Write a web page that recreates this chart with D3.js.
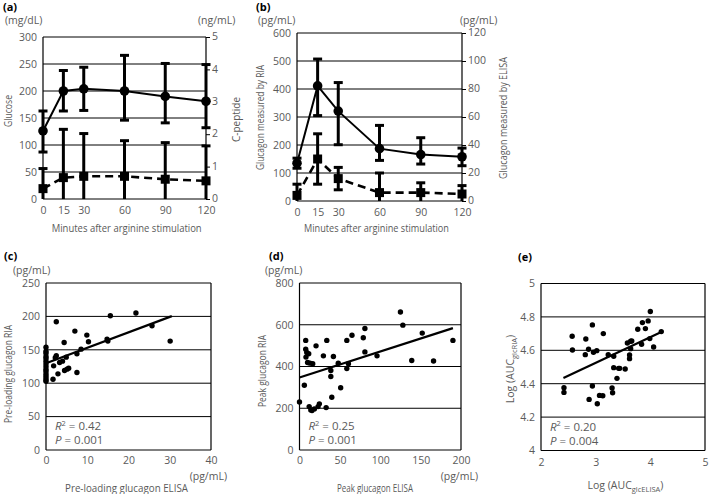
<!DOCTYPE html>
<html><head><meta charset="utf-8">
<script src="https://cdn.jsdelivr.net/npm/d3@7"></script>
<style>
body{margin:0;background:#fff}
svg text{font-family:"Open Sans",sans-serif;}
</style>
</head><body>
<svg id="chart" width="709" height="494"></svg>
<script>
// ---------- DATA ----------
const minutes = [0, 15, 30, 60, 90, 120];
// panel (a)
const glucose = [126, 200, 204, 200, 190, 181];
const glucoseErrUp = [37, 38, 40, 66, 61, 68];
const glucoseErrDown = [39, 37, 40, 54, 49, 49];
const cPeptide = [0.32, 0.66, 0.70, 0.70, 0.61, 0.56];
const cPeptideSD = [0.62, 1.49, 1.32, 1.10, 1.13, 1.08];
// panel (b)
const glucagonRIA = [135, 411, 321, 187, 166, 158];
const riaErrUp = [18, 96, 102, 83, 60, 31];
const riaErrDown = [18, 106, 120, 42, 34, 32];
const glucagonELISA = [4, 30, 16, 6, 6, 5];
const elisaSD = [8, 18, 8, 14, 7, 6];
// tick labels
const glucoseTicks = [0, 50, 100, 150, 200, 250, 300];
const cPeptideTicks = [0, 1, 2, 3, 4, 5];
const riaTicks = [0, 100, 200, 300, 400, 500, 600];
const elisaTicks = [0, 20, 40, 60, 80, 100, 120];
// panel (c)
const preELISA = [0,0,0,0,0,0,0,0,0,0,0,0,0,0,0,
  1.7,1.85,2.5,2.5,2.9,3.3,4.0,4.4,4.5,4.9,5.1,5.5,7.0,7.5,7.5,8.5,9.9,10.3,14.8,15.0,15.6,21.8,25.7,30.1,2.25];
const preRIA = [154,148,145,140,137,133,129,125,121,118,114,111,108,105,103,
  106,126,192,141,114,131,133,161,119,139,121,122.5,178,144,116,151,172,162,166,163,201,205,186,163,138];
const preFitRange = [0, 30.5];
const preFitCoef = [130, 2.31];   // intercept, slope
const preXTicks = [0, 10, 20, 30, 40];
const preYTicks = [0, 50, 100, 150, 200, 250];
// panel (d)
const peakELISA = [0,6,8,7.7,7.7,9,10,11.4,12,13,14,15.5,16.4,20.5,18.4,23,24.6,29.6,33,33.8,38.8,38.8,40,42,48,51,58.6,58.6,60.6,65,79,81,81,96,125,128,139,152,166,190];
const peakRIA = [230,310,445,525,483,467,419,461,208,416,192,189,413,499,197,208,221,451,203,525,381,352,253,448,416,298,390,525,413,550,538,582,470,451,661,598,429,560,426,525];
const peakFitRange = [0, 190];
const peakFitCoef = [347, 1.247];
const peakXTicks = [0, 50, 100, 150, 200];
const peakYTicks = [0, 200, 400, 600, 800];
// panel (e)
const aucELISA = [2.42,2.42,2.57,2.575,2.82,2.81,2.87,2.88,2.94,2.94,2.96,3.02,3.03,3.07,3.13,3.14,3.23,3.30,3.31,3.33,3.33,3.39,3.42,3.44,3.54,3.58,3.62,3.62,3.64,3.64,3.66,3.77,3.84,3.855,3.91,3.96,4.0,3.99,4.06,4.2];
const aucRIA = [4.376,4.348,4.684,4.602,4.668,4.574,4.606,4.306,4.752,4.386,4.588,4.598,4.28,4.33,4.328,4.70,4.574,4.374,4.346,4.564,4.496,4.432,4.492,4.492,4.488,4.644,4.55,4.572,4.654,4.61,4.656,4.726,4.636,4.766,4.73,4.776,4.832,4.67,4.62,4.712];
const aucFitRange = [2.41, 4.23];
const aucFitCoef = [4.063, 0.154];
const aucXTicks = [2, 3, 4, 5];
const aucYTicks = [4, 4.2, 4.4, 4.6, 4.8, 5];

// ---------- DRAW ----------
const svg = d3.select("#chart");
const GREY = "#5a5a5a";
const FS = 10.5;
const fmt = d => String(+d.toFixed(2));

function text(x, y, s, o = {}) {
  const t = svg.append("text").attr("x", x).attr("y", y).text(s)
    .attr("font-size", o.size || FS).attr("fill", o.fill || GREY)
    .attr("text-anchor", o.anchor || "start");
  if (o.weight) t.attr("font-weight", o.weight);
  if (o.len) t.attr("textLength", o.len).attr("lengthAdjust", "spacingAndGlyphs");
  if (o.rotate) t.attr("transform", `rotate(-90,${x},${y})`);
  return t;
}
function styleAxis(g) {
  g.select(".domain").remove();
  g.selectAll("text").attr("fill", GREY).attr("font-size", FS).attr("font-family", '"Open Sans",sans-serif');
  g.selectAll("line").attr("stroke", "#000");
}

function errorBars(g, x, y, xs, vals, up, down, dmin) {
  const cap = 4.5;
  xs.forEach((m, i) => {
    const top = vals[i] + up[i];
    const lowRaw = vals[i] - down[i];
    const low = Math.max(lowRaw, dmin);
    const cx = x(m);
    g.append("line").attr("x1", cx).attr("x2", cx).attr("y1", y(low)).attr("y2", y(top))
      .attr("stroke", "#000").attr("stroke-width", 3);
    g.append("line").attr("x1", cx - cap).attr("x2", cx + cap).attr("y1", y(top)).attr("y2", y(top))
      .attr("stroke", "#000").attr("stroke-width", 3);
    if (lowRaw >= dmin)
      g.append("line").attr("x1", cx - cap).attr("x2", cx + cap).attr("y1", y(low)).attr("y2", y(low))
        .attr("stroke", "#000").attr("stroke-width", 3);
  });
}

function timePanel(c) {
  const g = svg.append("g");
  const x = d3.scaleLinear().domain([0, 120]).range([c.x0, c.x1]);
  const yL = d3.scaleLinear().domain([0, c.lTicks[c.lTicks.length - 1]]).range([c.y0, c.y1]);
  const yR = d3.scaleLinear().domain([0, c.rTicks[c.rTicks.length - 1]]).range([c.y0, c.y1]);
  g.selectAll(".grid").data(c.lTicks).enter().append("line")
    .attr("x1", c.x0).attr("x2", c.x1).attr("y1", d => yL(d)).attr("y2", d => yL(d))
    .attr("stroke", "#000").attr("stroke-width", 1);
  [c.x0, c.x1].forEach(xx => g.append("line").attr("x1", xx).attr("x2", xx)
    .attr("y1", c.y0).attr("y2", c.y1).attr("stroke", "#000").attr("stroke-width", 1.2));
  const ax = g.append("g").attr("transform", `translate(${c.x0},0)`)
    .call(d3.axisLeft(yL).tickValues(c.lTicks).tickFormat(fmt).tickSize(0).tickPadding(6));
  styleAxis(ax);
  const ar = g.append("g").attr("transform", `translate(${c.x1},0)`)
    .call(d3.axisRight(yR).tickValues(c.rTicks).tickFormat(fmt).tickSize(4).tickPadding(2));
  styleAxis(ar);
  ar.selectAll("text").attr("dy", "0.25em");
  const ab = g.append("g").attr("transform", `translate(0,${c.y0})`)
    .call(d3.axisBottom(x).tickValues(minutes).tickFormat(fmt).tickSize(0).tickPadding(8));
  styleAxis(ab);
  errorBars(g, x, yR, minutes, c.bVals, c.bUp, c.bDown, 0);
  errorBars(g, x, yL, minutes, c.aVals, c.aUp, c.aDown, 0);
  g.append("path").datum(minutes.map((m, i) => [m, c.bVals[i]]))
    .attr("d", d3.line().x(d => x(d[0])).y(d => yR(d[1])))
    .attr("fill", "none").attr("stroke", "#000").attr("stroke-width", 2.6).attr("stroke-dasharray", "8,5");
  g.append("path").datum(minutes.map((m, i) => [m, c.aVals[i]]))
    .attr("d", d3.line().x(d => x(d[0])).y(d => yL(d[1])))
    .attr("fill", "none").attr("stroke", "#000").attr("stroke-width", 2);
  g.selectAll(".sq").data(minutes).enter().append("rect")
    .attr("x", (d) => x(d) - 4.5).attr("y", (d, i) => yR(c.bVals[i]) - 4.5)
    .attr("width", 9).attr("height", 9).attr("fill", "#000");
  g.selectAll(".ci").data(minutes).enter().append("circle")
    .attr("cx", d => x(d)).attr("cy", (d, i) => yL(c.aVals[i])).attr("r", 4.8).attr("fill", "#000");
}

timePanel({x0: 43, x1: 206, y0: 199, y1: 37, lTicks: glucoseTicks, rTicks: cPeptideTicks,
  aVals: glucose, aUp: glucoseErrUp, aDown: glucoseErrDown,
  bVals: cPeptide, bUp: cPeptideSD, bDown: cPeptideSD});
timePanel({x0: 297, x1: 462, y0: 201, y1: 33, lTicks: riaTicks, rTicks: elisaTicks,
  aVals: glucagonRIA, aUp: riaErrUp, aDown: riaErrDown,
  bVals: glucagonELISA, bUp: elisaSD, bDown: elisaSD});

function scatterPanel(c) {
  const g = svg.append("g");
  const x = d3.scaleLinear().domain([c.xT[0], c.xT[c.xT.length - 1]]).range([c.x0, c.x1]);
  const y = d3.scaleLinear().domain([c.yT[0], c.yT[c.yT.length - 1]]).range([c.y0, c.y1]);
  g.selectAll(".grid").data(c.yT).enter().append("line")
    .attr("x1", c.x0).attr("x2", c.x1).attr("y1", d => y(d)).attr("y2", d => y(d))
    .attr("stroke", "#000").attr("stroke-width", 1);
  [c.x0, c.x1].forEach(xx => g.append("line").attr("x1", xx).attr("x2", xx)
    .attr("y1", c.y0).attr("y2", c.y1).attr("stroke", "#000").attr("stroke-width", 1.2));
  const ax = g.append("g").attr("transform", `translate(${c.x0},0)`)
    .call(d3.axisLeft(y).tickValues(c.yT).tickFormat(fmt).tickSize(0).tickPadding(6));
  styleAxis(ax);
  const ab = g.append("g").attr("transform", `translate(0,${c.y0})`)
    .call(d3.axisBottom(x).tickValues(c.xT).tickFormat(fmt).tickSize(0).tickPadding(c.xPad || 7));
  styleAxis(ab);
  g.selectAll("circle").data(c.xs).enter().append("circle")
    .attr("cx", d => x(d)).attr("cy", (d, i) => y(c.ys[i])).attr("r", 2.7).attr("fill", "#000");
  g.append("line")
    .attr("x1", x(c.fr[0])).attr("y1", y(c.fc[0] + c.fc[1] * c.fr[0]))
    .attr("x2", x(c.fr[1])).attr("y2", y(c.fc[0] + c.fc[1] * c.fr[1]))
    .attr("stroke", "#000").attr("stroke-width", 2.2);
  const t1 = svg.append("text").attr("x", c.x0 + 9).attr("y", c.y0 - 20)
    .attr("font-size", 11.5).attr("fill", GREY);
  t1.append("tspan").attr("font-style", "italic").text("R");
  t1.append("tspan").attr("font-size", 7.5).attr("dy", -4.5).text("2");
  t1.append("tspan").attr("dy", 4.5).text(" = " + c.r2);
  const t2 = svg.append("text").attr("x", c.x0 + 9).attr("y", c.y0 - 6)
    .attr("font-size", 11.5).attr("fill", GREY);
  t2.append("tspan").attr("font-style", "italic").text("P");
  t2.append("tspan").text(" = " + c.p);
}

scatterPanel({x0: 46, x1: 211, y0: 450, y1: 283, xT: preXTicks, yT: preYTicks,
  xs: preELISA, ys: preRIA, fr: preFitRange, fc: preFitCoef, r2: "0.42", p: "0.001"});
scatterPanel({x0: 299.5, x1: 461, y0: 450, y1: 283, xT: peakXTicks, yT: peakYTicks,
  xs: peakELISA, ys: peakRIA, fr: peakFitRange, fc: peakFitCoef, r2: "0.25", p: "0.001"});
scatterPanel({x0: 541, x1: 705, y0: 450.5, y1: 283.5, xT: aucXTicks, yT: aucYTicks, xPad: 8,
  xs: aucELISA, ys: aucRIA, fr: aucFitRange, fc: aucFitCoef, r2: "0.20", p: "0.004"});

// ---------- LABELS ----------
const B = {size: 11, fill: "#000", weight: "bold"};
text(3, 10.5, "(a)", B);
text(256, 10.5, "(b)", B);
text(4, 260, "(c)", B);
text(269, 260, "(d)", B);
text(518, 261, "(e)", B);

text(5, 24, "(mg/dL)");
text(198, 24, "(ng/mL)");
text(258, 23.5, "(pg/mL)");
text(460, 23.5, "(pg/mL)");
text(13, 274, "(pg/mL)");
text(265, 274, "(pg/mL)");
text(227, 480, "(pg/mL)", {anchor: "end"});
text(478, 480, "(pg/mL)", {anchor: "end"});

text(126.7, 232, "Minutes after arginine stimulation", {anchor: "middle", len: 150});
text(376.5, 232, "Minutes after arginine stimulation", {anchor: "middle", len: 145});
text(126.5, 492, "Pre-loading glucagon ELISA", {anchor: "middle", len: 123});
text(375, 492, "Peak glucagon ELISA", {anchor: "middle", len: 76});

text(11.5, 111, "Glucose", {anchor: "middle", rotate: true, len: 32});
text(239.5, 119.5, "C-peptide", {anchor: "middle", rotate: true, len: 45});
text(263.5, 117.5, "Glucagon measured by RIA", {anchor: "middle", rotate: true, len: 105});
text(507, 118, "Glucagon measured by ELISA", {anchor: "middle", rotate: true, len: 122});
text(11.5, 374, "Pre-loading glucagon RIA", {anchor: "middle", rotate: true, len: 98});
text(265.5, 371, "Peak glucagon RIA", {anchor: "middle", rotate: true, len: 72});

const ly = svg.append("text").attr("x", 514).attr("y", 369).attr("text-anchor", "middle")
  .attr("font-size", FS).attr("fill", GREY).attr("transform", "rotate(-90,514,369)");
ly.append("tspan").text("Log (AUC");
ly.append("tspan").attr("font-size", 7.5).attr("dy", 2.5).text("glcRIA");
ly.append("tspan").attr("dy", -2.5).text(")");
const lx = svg.append("text").attr("x", 625.5).attr("y", 489).attr("text-anchor", "middle")
  .attr("font-size", FS).attr("fill", GREY);
lx.append("tspan").text("Log (AUC");
lx.append("tspan").attr("font-size", 7.5).attr("dy", 2.5).text("glcELISA");
lx.append("tspan").attr("dy", -2.5).text(")");
</script>
</body></html>
